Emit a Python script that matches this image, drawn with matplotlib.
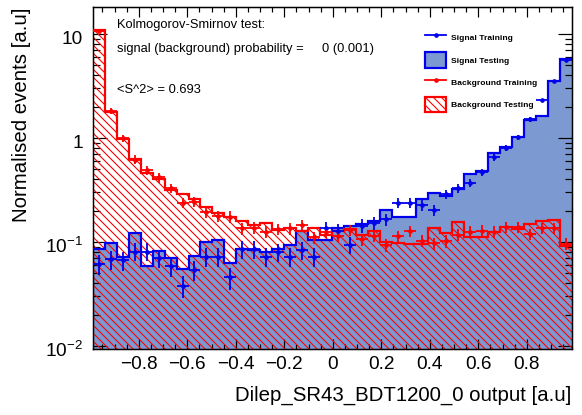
import numpy as np
import matplotlib
matplotlib.use("Agg")
import matplotlib.pyplot as plt
from matplotlib.patches import Patch
from matplotlib.lines import Line2D
from matplotlib.transforms import ScaledTranslation

# histogram range and binning of the BDT output
x_min, x_max, n_bins = -0.99, 0.985, 40

# signal testing (filled histogram)
sig_test = [0.086, 0.098, 0.0713, 0.123, 0.059, 0.0826, 0.0697, 0.0546, 0.0733, 0.1007,
            0.1045, 0.0624, 0.086, 0.083, 0.081, 0.0863, 0.0936, 0.128, 0.1045, 0.1045,
            0.135, 0.143, 0.148, 0.159, 0.203, 0.173, 0.173, 0.257, 0.294, 0.277,
            0.321, 0.451, 0.486, 0.713, 0.824, 1.02, 1.49, 1.64, 3.53, 5.71]

# background testing (hatched histogram)
bkg_test = [10.9, 1.77, 0.986, 0.628, 0.46, 0.404, 0.316, 0.288, 0.257, 0.219,
            0.191, 0.175, 0.159, 0.146, 0.151, 0.130, 0.137, 0.129, 0.135, 0.117,
            0.128, 0.132, 0.117, 0.128, 0.100, 0.097, 0.096, 0.096, 0.135, 0.121,
            0.157, 0.111, 0.112, 0.126, 0.140, 0.132, 0.148, 0.159, 0.163, 0.092]

# signal training (points)
sig_train = [0.0614, 0.068, 0.067, 0.081, 0.081, 0.0697, 0.0589, 0.0378, 0.054, 0.0723,
             0.0723, 0.0457, 0.085, 0.085, 0.072, 0.080, 0.072, 0.0835, 0.072, 0.137,
             0.128, 0.094, 0.144, 0.152, 0.165, 0.239, 0.239, 0.227, 0.203, 0.288,
             0.328, 0.372, 0.468, 0.65, 0.80, 1.02, 1.51, 2.3, 3.5, 5.6]
sig_train_err = [0.013, 0.014, 0.014, 0.016, 0.016, 0.014, 0.013, 0.009, 0.012, 0.015,
                 0.015, 0.011, 0.017, 0.017, 0.015, 0.016, 0.015, 0.016, 0.015, 0.02,
                 0.02, 0.017, 0.021, 0.022, 0.023, 0.028, 0.028, 0.027, 0.026, 0.03,
                 0.032, 0.034, 0.038, 0.045, 0.05, 0.056, 0.068, 0.085, 0.105, 0.135]

# background training (points)
bkg_train = [10.6, 1.83, 1.0, 0.62, 0.49, 0.418, 0.33, 0.239, 0.245, 0.196,
             0.178, 0.175, 0.135, 0.137, 0.126, 0.133, 0.135, 0.146, 0.111, 0.125,
             0.114, 0.13, 0.106, 0.114, 0.0936, 0.114, 0.128, 0.103, 0.097, 0.102,
             0.117, 0.126, 0.129, 0.126, 0.14, 0.14, 0.119, 0.135, 0.135, 0.096]
bkg_train_err = [0.35, 0.12, 0.08, 0.06, 0.05, 0.045, 0.035, 0.028, 0.028, 0.024,
                 0.022, 0.022, 0.018, 0.018, 0.017, 0.017, 0.018, 0.018, 0.015, 0.016,
                 0.015, 0.016, 0.014, 0.015, 0.013, 0.015, 0.016, 0.014, 0.013, 0.014,
                 0.015, 0.016, 0.016, 0.016, 0.017, 0.017, 0.015, 0.016, 0.016, 0.013]

y_ticks = [0.01, 0.1, 1, 10]
y_ticklabels = [r'$\mathregular{10^{-2}}$', r'$\mathregular{10^{-1}}$', '1', '10']
x_ticks = [-0.8, -0.6, -0.4, -0.2, 0, 0.2, 0.4, 0.6, 0.8]
x_ticklabels = ['\u22120.8', '\u22120.6', '\u22120.4', '\u22120.2', '0', '0.2', '0.4', '0.6', '0.8']

SIG_FILL = '#7d99d1'
SIG_LINE = '#0000ee'
BKG = '#ff0000'
HATCH = '\\' * 5

# work in pixels: 582 x 415 picture
W, H, DPI = 582, 415, 120
PX = 72.0 / DPI  # one pixel in points

plt.rcParams['font.family'] = ['Liberation Sans', 'DejaVu Sans']
plt.rcParams['mathtext.fontset'] = 'custom'
plt.rcParams['mathtext.rm'] = 'Liberation Sans'
plt.rcParams['mathtext.it'] = 'Liberation Sans:italic'
plt.rcParams['mathtext.bf'] = 'Liberation Sans:bold'
plt.rcParams['hatch.linewidth'] = 1.1 * PX

edges = np.linspace(x_min, x_max, n_bins + 1)
centers = 0.5 * (edges[1:] + edges[:-1])
half = 0.5 * (edges[1] - edges[0])

fig = plt.figure(figsize=(W / DPI, H / DPI), dpi=DPI)
# frame: x 92.7..571.7 px, y 7..349.3 px
top_px, bot_px = 7.0, 349.3
ax = fig.add_axes([92.7 / W, 1 - bot_px / H, (571.7 - 92.7) / W, (bot_px - top_px) / H])
ax.set_yscale('log')
ax.set_xlim(x_min, x_max)
ax.set_ylim(0.0093, 18.2)

base = 1e-4
ax.stairs(sig_test, edges, baseline=base, fill=True, facecolor=SIG_FILL, edgecolor='none', zorder=1)
ax.stairs(bkg_test, edges, baseline=base, fill=True, facecolor='none', edgecolor=BKG,
          hatch=HATCH, linewidth=0, zorder=2)
ax.stairs(sig_test, edges, baseline=None, color=SIG_LINE, linewidth=2.2 * PX, zorder=3)
ax.stairs(bkg_test, edges, baseline=None, color=BKG, linewidth=2.2 * PX, zorder=4)

ax.errorbar(centers, sig_train, xerr=half, yerr=sig_train_err, fmt='o', ms=3 * PX,
            color=SIG_LINE, elinewidth=1.8 * PX, capsize=0, zorder=5)
ax.errorbar(centers, bkg_train, xerr=half, yerr=bkg_train_err, fmt='o', ms=3 * PX,
            color=BKG, elinewidth=1.8 * PX, capsize=0, zorder=5)

ax.set_xticks(x_ticks)
ax.set_xticklabels(x_ticklabels)
ax.set_xticks(np.arange(-0.95, 0.96, 0.05), minor=True)
ax.set_yticks(y_ticks)
ax.set_yticklabels(y_ticklabels)
ax.tick_params(which='both', direction='in', top=True, right=True, width=1.2 * PX,
               colors='black')
ax.tick_params(axis='x', which='major', length=10 * PX, pad=6.5 * PX, labelsize=19 * PX)
ax.tick_params(axis='x', which='minor', length=5 * PX)
ax.tick_params(axis='y', which='major', length=14 * PX, pad=10 * PX, labelsize=19 * PX)
ax.tick_params(axis='y', which='minor', length=7 * PX)
shift = ScaledTranslation(0, -3 / DPI, fig.dpi_scale_trans)
for lab in ax.get_yticklabels():
    lab.set_transform(lab.get_transform() + shift)
for s in ax.spines.values():
    s.set_linewidth(1.5 * PX)

# axis titles
fig.text(571.7 / W, 1 - 401 / H, 'Dilep_SR43_BDT1200_0 output [a.u]', ha='right',
         va='baseline', fontsize=20.4 * PX)
fig.text(22 / W, 1 - 8 / H, 'Normalised events [a.u]', rotation=90, ha='center',
         va='top', fontsize=20.4 * PX)

# KS test text
fs_ks = 12.9 * PX
fig.text(116.7 / W, 1 - 28.3 / H, 'Kolmogorov-Smirnov test:', fontsize=fs_ks, va='baseline')
fig.text(116.7 / W, 1 - 51.7 / H, 'signal (background) probability =', fontsize=fs_ks, va='baseline')
fig.text(322.3 / W, 1 - 51.7 / H, '0 (0.001)', fontsize=fs_ks, va='baseline')
fig.text(116.7 / W, 1 - 93.3 / H, '<S^2> = 0.693', fontsize=fs_ks, va='baseline')

# legend
handles = [
    Line2D([], [], color=SIG_LINE, lw=1.8 * PX, marker='o', ms=3 * PX),
    Patch(facecolor=SIG_FILL, edgecolor=SIG_LINE, linewidth=2.2 * PX),
    Line2D([], [], color=BKG, lw=1.8 * PX, marker='o', ms=3 * PX),
    Patch(facecolor='white', edgecolor=BKG, hatch=HATCH, linewidth=2.2 * PX),
]
labels = ['Signal Training', 'Signal Testing', 'Background Training', 'Background Testing']
fs_leg = 8.5
fig.legend(handles, labels, loc='upper left', bbox_to_anchor=(425 / W, 1 - 29.7 / H),
           frameon=False, borderpad=0, borderaxespad=0, handlelength=21 / fs_leg,
           handleheight=2.5, handletextpad=4.7 / fs_leg,
           labelspacing=(23 - 16.6) / fs_leg, prop={'size': fs_leg * PX, 'weight': 'bold'})

fig.savefig('out.png', dpi=DPI)
